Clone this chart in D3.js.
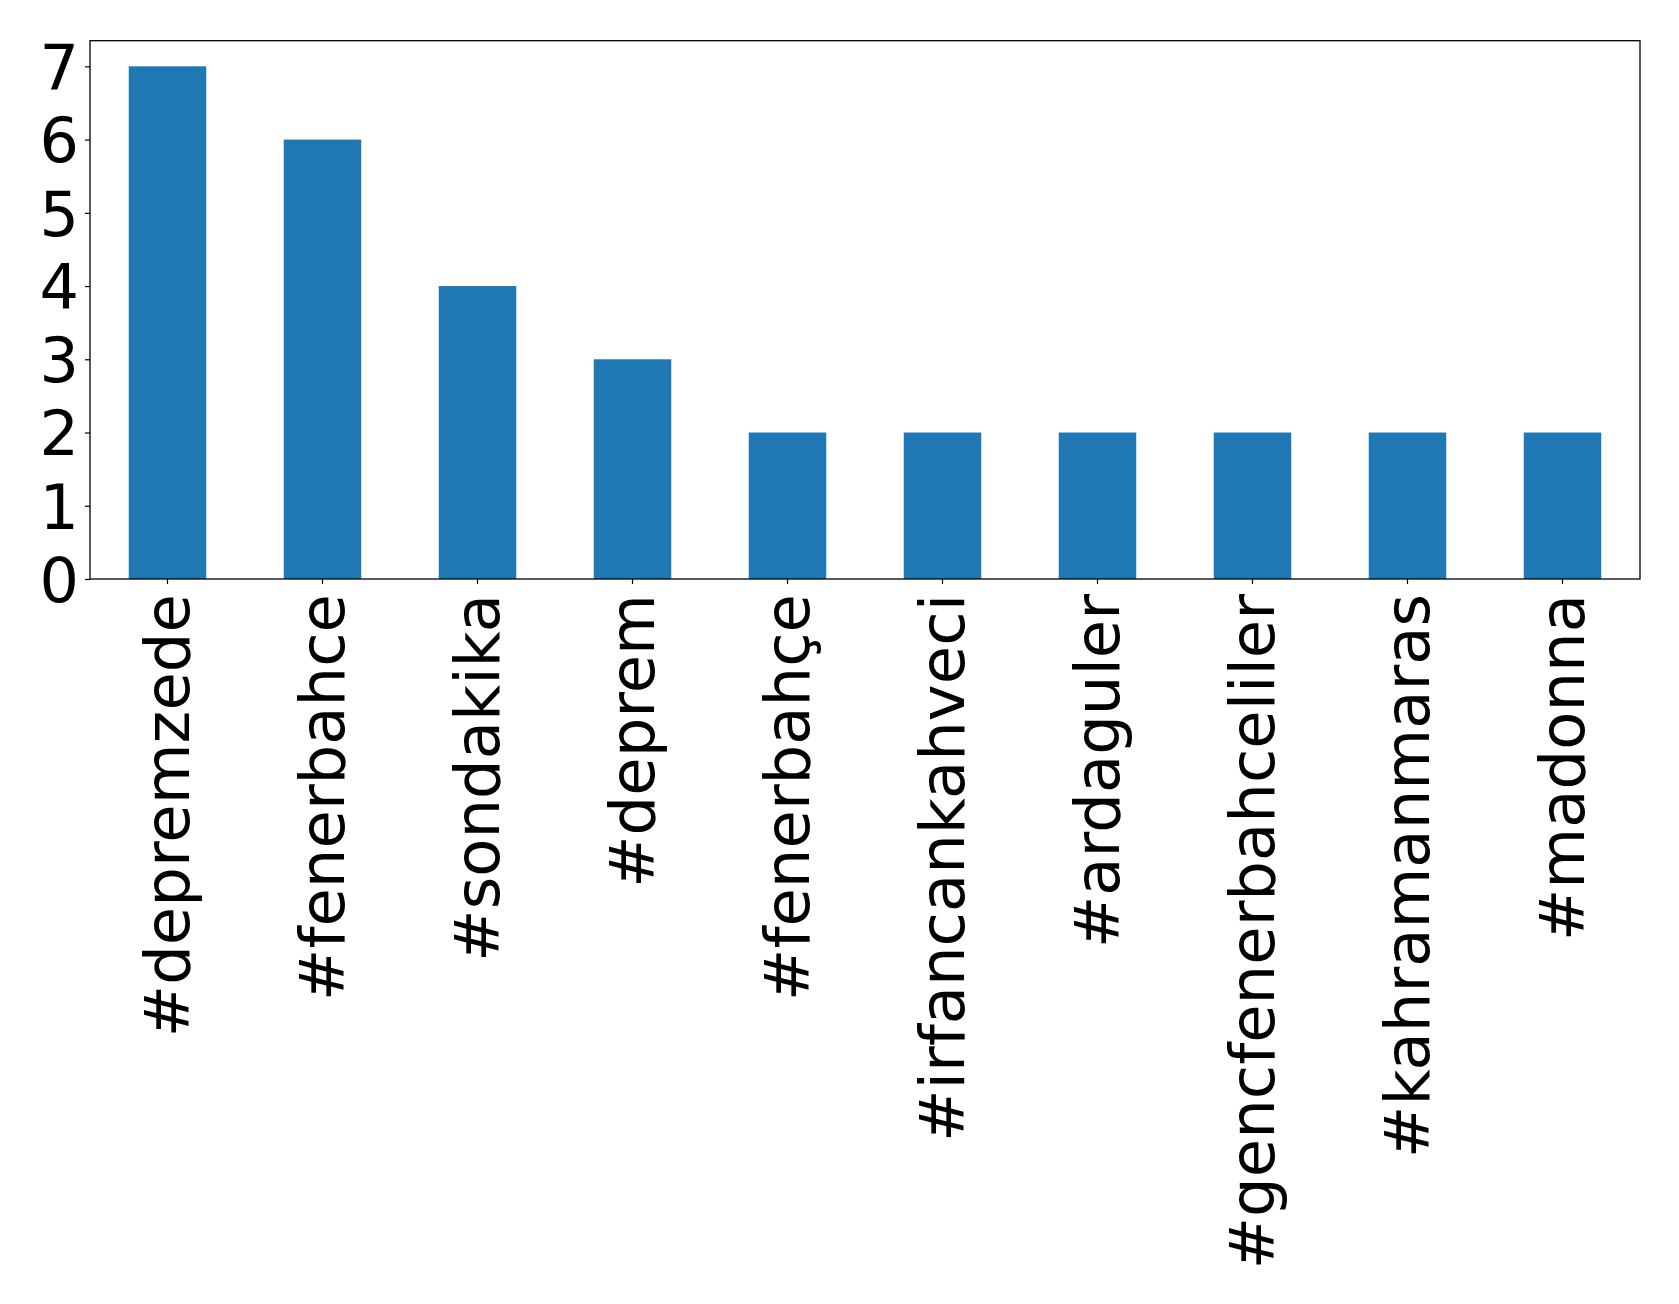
<!DOCTYPE html>
<html><head><meta charset="utf-8">
<script src="https://cdn.jsdelivr.net/npm/d3@7"></script>
<style>body{margin:0;background:#fff}svg{display:block}text{font-family:"DejaVu Sans",sans-serif}</style>
</head><body>
<script>
const categories = ["#depremzede","#fenerbahce","#sondakika","#deprem","#fenerbahçe","#irfancankahveci","#ardaguler","#gencfenerbahceliler","#kahramanmaras","#madonna"];
const counts = [7,6,4,3,2,2,2,2,2,2];
const yTicks = [0,1,2,3,4,5,6,7];

(function(){
const W = 1679, H = 1304;
const mLeft = 90, mRight = 1640, mTop = 40.7, mBottom = 579;
const fsX = 62.5, fsY = 62;

const svg = d3.select("body").append("svg").attr("width", W).attr("height", H);
const x = d3.scaleBand().domain(categories).range([mLeft, mRight]).paddingInner(0.5).paddingOuter(0.25);
const y = d3.scaleLinear().domain([0, 7.35]).range([mBottom, mTop]);

svg.selectAll("rect.bar").data(categories).enter().append("rect")
  .attr("class","bar")
  .attr("x", d => x(d))
  .attr("width", x.bandwidth())
  .attr("y", (d,i) => y(counts[i]))
  .attr("height", (d,i) => y(0) - y(counts[i]))
  .attr("fill", "#1f77b4");

const yAxis = svg.append("g").attr("transform", `translate(${mLeft},0)`)
  .call(d3.axisLeft(y).tickValues(yTicks).tickSize(5).tickPadding(6).tickFormat(d3.format("d")));
yAxis.select(".domain").remove();
yAxis.selectAll(".tick line").attr("stroke","#000").attr("stroke-width",1.2);
yAxis.selectAll(".tick text").attr("font-size", fsY).attr("fill","#000")
  .attr("font-family","'DejaVu Sans', sans-serif").attr("dy","0.36em");

const xAxis = svg.append("g").attr("transform", `translate(0,${mBottom})`)
  .call(d3.axisBottom(x).tickSize(5).tickFormat(""));
xAxis.select(".domain").remove();
xAxis.selectAll(".tick line").attr("stroke","#000").attr("stroke-width",1.2);

svg.append("g").selectAll("text").data(categories).enter().append("text")
  .attr("transform", d => `translate(${x(d) + x.bandwidth()/2},${mBottom + 15}) rotate(-90)`)
  .attr("text-anchor","end")
  .attr("y", 21.5)
  .attr("font-size", fsX)
  .attr("fill","#000")
  .text(d => d);

svg.append("rect").attr("x", mLeft).attr("y", mTop).attr("width", mRight-mLeft).attr("height", mBottom-mTop)
  .attr("fill","none").attr("stroke","#000").attr("stroke-width",1.3);
})();
</script>
</body></html>
